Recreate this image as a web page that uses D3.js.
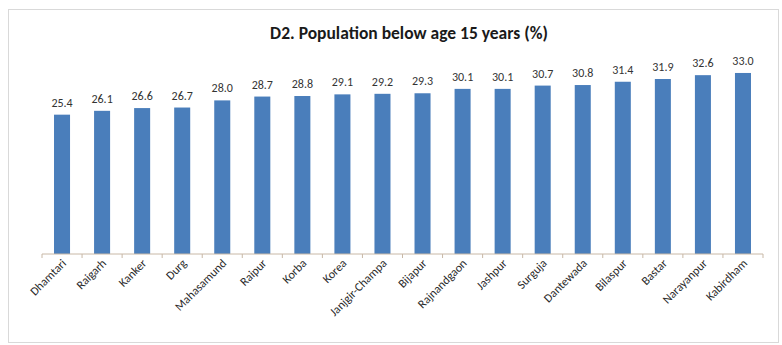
<!DOCTYPE html>
<html>
<head>
<meta charset="utf-8">
<script src="https://cdn.jsdelivr.net/npm/d3@7"></script>
<style>
  body { margin: 0; background: #fff; }
  svg { display: block; font-family: Calibri, Carlito, "Open Sans", sans-serif; }
</style>
</head>
<body>
<div id="chart"></div>
<script>
const districts = ['Dhamtari', 'Raigarh', 'Kanker', 'Durg', 'Mahasamund', 'Raipur', 'Korba', 'Korea',
  'Janjgir-Champa', 'Bijapur', 'Rajnandgaon', 'Jashpur', 'Surguja', 'Dantewada', 'Bilaspur',
  'Bastar', 'Narayanpur', 'Kabirdham']
const below15 = [25.4, 26.1, 26.6, 26.7, 28.0, 28.7, 28.8, 29.1, 29.2, 29.3, 30.1, 30.1, 30.7,
  30.8, 31.4, 31.9, 32.6, 33.0]

const width = 782
const height = 345
const margin = { top: 62, right: 19, bottom: 91, left: 42 }

const svg = d3.select('#chart').append('svg')
  .attr('width', width)
  .attr('height', height)

// outer frame
svg.append('rect')
  .attr('x', 8.5).attr('y', 9.5)
  .attr('width', 770).attr('height', 333)
  .attr('fill', '#fff')
  .attr('stroke', '#d9d9d9')

svg.append('text')
  .attr('x', 409).attr('y', 39)
  .attr('text-anchor', 'middle')
  .attr('font-size', 17.5)
  .attr('font-weight', 'bold')
  .attr('fill', '#1a1a1a')
  .text('D2. Population below age 15 years (%)')

const x = d3.scaleBand()
  .domain(districts)
  .range([margin.left, width - margin.right])
  .paddingInner(0.6)
  .paddingOuter(0.3)

const y = d3.scaleLinear()
  .domain([0, 35])
  .range([height - margin.bottom, margin.top])

const data = districts.map((d, i) => ({ name: d, value: below15[i] }))

svg.append('g').attr('class', 'bars')
  .selectAll('rect')
  .data(data)
  .enter()
  .append('rect')
    .attr('x', d => x(d.name))
    .attr('y', d => y(d.value))
    .attr('width', x.bandwidth())
    .attr('height', d => y(0) - y(d.value))
    .attr('fill', '#4a7ebb')

svg.append('g').attr('class', 'values')
  .selectAll('text')
  .data(data)
  .enter()
  .append('text')
    .attr('x', d => x(d.name) + x.bandwidth() / 2)
    .attr('y', d => y(d.value) - 8)
    .attr('text-anchor', 'middle')
    .attr('font-size', 12)
    .attr('fill', '#333')
    .text(d => d.value.toFixed(1))

// category axis, ticks fall between bars like Excel
const step = x.step()
const axisG = svg.append('g')
  .attr('transform', 'translate(0,' + y(0) + ')')

axisG.append('line')
  .attr('x1', margin.left).attr('x2', width - margin.right)
  .attr('stroke', '#c8b8a6')

axisG.selectAll('line.tick')
  .data(d3.range(districts.length + 1))
  .enter()
  .append('line')
    .attr('class', 'tick')
    .attr('x1', i => margin.left + i * step)
    .attr('x2', i => margin.left + i * step)
    .attr('y2', 4)
    .attr('stroke', '#c8b8a6')

axisG.selectAll('text')
  .data(districts)
  .enter()
  .append('text')
    .attr('transform', d => 'translate(' + (x(d) + x.bandwidth() / 2 + 5) + ',10) rotate(-45)')
    .attr('text-anchor', 'end')
    .attr('font-size', 12)
    .attr('fill', '#2a2a2a')
    .text(d => d)
</script>
</body>
</html>
